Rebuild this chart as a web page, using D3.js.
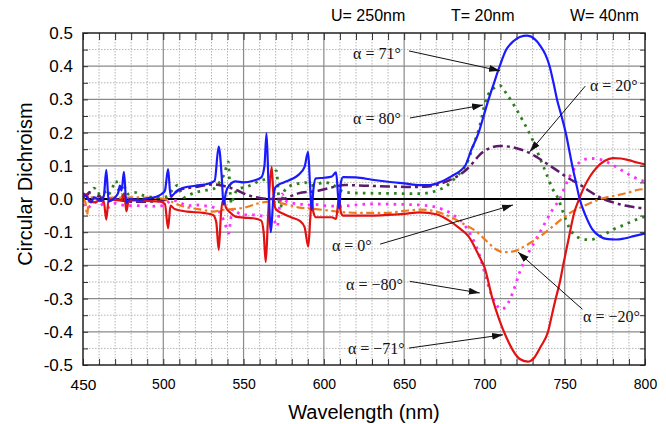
<!DOCTYPE html>
<html><head><meta charset="utf-8">
<script src="https://cdn.jsdelivr.net/npm/d3@7"></script>
<style>body{margin:0;background:#fff;}svg{display:block;}</style>
</head><body><svg id="c" width="666" height="424"></svg>
<script>
// ---------- data ----------
const xTickValues = [450, 500, 550, 600, 650, 700, 750, 800];
const yTickValues = [-0.5, -0.4, -0.3, -0.2, -0.1, 0.0, 0.1, 0.2, 0.3, 0.4, 0.5];
const headerLabels = ["U= 250nm", "T= 20nm", "W= 40nm"];
const xTitle = "Wavelength (nm)";
const yTitle = "Circular Dichroism";

// alpha = 71 deg (blue)
const a71 = [[450,0.005],[451.5,0.012],[453,0.0],[455,-0.01],[457,0.005],[459,0.0],[461,-0.005],[463,0.01],[464.5,0.088],[466,-0.008],[468,-0.003],[470,0.005],[472,0.02],[473,0.04],[474,0.025],[475.5,0.082],[477,-0.012],[479,0.0],[482,-0.002],[486,-0.003],[490,0.002],[495,0.006],[499,0.015],[501,0.025],[503,0.09],[504.5,0.01],[506,0.012],[508,0.022],[512,0.033],[520,0.04],[528,0.046],[532,0.055],[534.5,0.158],[536.5,0.06],[537.5,-0.017],[539,0.02],[541.5,0.043],[545,0.053],[550,0.05],[556,0.055],[561,0.065],[563,0.1],[564.3,0.198],[565.5,0.05],[567,-0.1],[568.5,0.0],[570,0.037],[575,0.05],[580,0.06],[584,0.072],[588,0.097],[590.2,0.142],[591.3,0.05],[592.4,-0.033],[593.5,0.03],[595,0.062],[600,0.064],[605,0.068],[607.6,0.08],[609,0.0],[609.6,-0.03],[610.6,0.05],[612,0.066],[620,0.065],[630,0.058],[640,0.052],[650,0.047],[660,0.042],[666,0.042],[672,0.05],[680,0.07],[685,0.085],[688,0.1],[692,0.15],[696.4,0.2],[699.5,0.25],[702.6,0.3],[706,0.35],[709.5,0.4],[713.6,0.45],[718,0.475],[722,0.488],[726.7,0.492],[731,0.483],[735,0.46],[738,0.435],[740.6,0.4],[743,0.35],[745.2,0.3],[748,0.25],[750.6,0.2],[752.7,0.15],[754.7,0.1],[757,0.05],[759.3,0.0],[763,-0.05],[767,-0.09],[772,-0.113],[777,-0.121],[782,-0.122],[787,-0.119],[793,-0.112],[800,-0.104]];

// alpha = -71 deg (red)
const aM71 = [[450,0.0],[452,0.015],[454,-0.005],[457,-0.01],[460,-0.005],[463,-0.01],[464.5,-0.062],[466,0.0],[470,-0.003],[474,-0.005],[475.7,0.017],[477,-0.037],[478.5,-0.005],[482,-0.004],[490,-0.006],[498,-0.008],[501,-0.015],[503,-0.088],[504.5,-0.02],[507,-0.03],[515,-0.038],[525,-0.042],[531,-0.048],[533,-0.07],[534.5,-0.153],[536,-0.04],[537.5,0.0],[539,-0.025],[541.5,-0.04],[545,-0.053],[550,-0.056],[556,-0.058],[561,-0.065],[562.5,-0.1],[563.8,-0.19],[565,-0.08],[566,0.02],[567.5,0.097],[568.5,0.02],[570,-0.03],[575,-0.045],[580,-0.056],[585,-0.066],[588,-0.085],[590.3,-0.143],[591.5,-0.06],[592.4,0.0],[593.5,-0.04],[595,-0.055],[600,-0.055],[605,-0.055],[607.6,-0.06],[609,-0.01],[609.6,0.0],[610.6,-0.04],[612,-0.05],[620,-0.05],[630,-0.05],[640,-0.048],[650,-0.045],[660,-0.04],[670,-0.046],[678,-0.065],[685,-0.09],[690,-0.112],[694,-0.145],[697,-0.175],[700,-0.205],[705,-0.3],[709,-0.36],[713.5,-0.415],[718,-0.458],[722,-0.482],[727,-0.49],[731,-0.478],[735,-0.445],[739.6,-0.4],[742,-0.35],[744.4,-0.3],[747,-0.25],[749,-0.2],[752,-0.13],[756,-0.04],[759,0.0],[762,0.035],[766,0.07],[770,0.095],[775,0.115],[780,0.123],[785,0.122],[790,0.117],[795,0.11],[800,0.104]];

// alpha = 80 deg (green dotted)
const a80 = [[450,0.0],[452,0.015],[455,0.02],[457,0.033],[459,0.015],[461,0.02],[463,0.025],[465,0.01],[468,0.03],[470.5,0.055],[472,0.03],[474,0.01],[476,0.035],[478,0.015],[482,0.02],[488,0.01],[495,0.005],[500,0.005],[503,0.01],[506,0.03],[509,0.042],[511,0.02],[513,0.005],[516,0.012],[520,0.02],[525,0.025],[531,0.03],[535,0.05],[538,0.075],[540.5,0.112],[541.5,0.03],[542.5,-0.015],[544,0.01],[547,0.03],[552,0.037],[556,0.045],[560,0.055],[564,0.06],[567,0.068],[570.5,0.085],[572,0.0],[573,-0.025],[575,0.02],[578,0.037],[583,0.045],[588,0.05],[592,0.04],[596,0.045],[600,0.05],[605,0.045],[608,0.035],[612,0.022],[620,0.018],[640,0.017],[660,0.016],[670,0.025],[676,0.038],[680,0.055],[685,0.08],[689,0.107],[693,0.16],[697,0.218],[701,0.3],[705,0.33],[709.5,0.342],[714,0.315],[719,0.278],[724,0.235],[730,0.178],[734,0.13],[738.5,0.077],[742,0.035],[746,0.0],[749,-0.04],[753,-0.088],[759.6,-0.118],[766,-0.123],[771,-0.115],[776,-0.103],[781,-0.09],[787,-0.078],[793,-0.065],[800,-0.053]];

// alpha = -80 deg (magenta dotted)
const aM80 = [[450,-0.015],[452,-0.028],[455,-0.02],[458,-0.01],[460,-0.02],[463,-0.015],[466,-0.025],[470,-0.013],[474,-0.018],[478,-0.02],[485,-0.02],[492,-0.022],[500,-0.02],[503,-0.01],[506,-0.003],[510,-0.01],[515,-0.02],[520,-0.018],[525,-0.02],[531,-0.025],[535,-0.04],[538,-0.068],[540.8,-0.103],[542,-0.06],[543.5,-0.03],[546,-0.04],[550,-0.048],[556,-0.048],[560,-0.05],[565,-0.055],[569,-0.065],[571,-0.083],[572.5,-0.02],[574,0.015],[576,-0.005],[580,-0.012],[585,-0.015],[590,-0.018],[596,-0.017],[600,-0.02],[610,-0.022],[620,-0.018],[630,-0.015],[645,-0.016],[660,-0.018],[670,-0.025],[680.6,-0.048],[687,-0.075],[692,-0.113],[697,-0.17],[700,-0.22],[703,-0.27],[707.4,-0.318],[711,-0.332],[714.5,-0.315],[717.8,-0.28],[722,-0.22],[726,-0.175],[730,-0.14],[734,-0.105],[738,-0.07],[742,-0.035],[747,0.002],[750,0.035],[753,0.067],[756.5,0.095],[759.6,0.112],[766,0.122],[773,0.118],[780,0.102],[786,0.085],[792.5,0.067],[800,0.052]];

// alpha = 20 deg (purple dash-dot)
const a20 = [[450,0.018],[452,0.01],[454,0.02],[456,0.005],[458,0.0],[460,0.01],[463,-0.005],[466,-0.005],[470,0.0],[475,-0.005],[480,-0.008],[490,-0.008],[498,-0.005],[503,0.0],[506,0.012],[510,0.028],[520,0.036],[531,0.044],[537,0.04],[545,0.028],[552,0.013],[560,0.003],[566,0.0],[573.7,0.0],[584,0.017],[596.5,0.025],[605,0.035],[613,0.042],[625,0.04],[640,0.038],[655,0.036],[665,0.038],[672,0.045],[680.6,0.062],[688,0.085],[693,0.11],[697,0.133],[702,0.15],[709.5,0.16],[716,0.157],[722,0.15],[728.4,0.138],[733,0.125],[738.7,0.107],[744,0.09],[749,0.073],[754,0.058],[759.6,0.043],[765,0.025],[770,0.01],[774,0.0],[780,-0.01],[785,-0.017],[790,-0.022],[795,-0.026],[800,-0.028]];

// alpha = -20 deg (orange dash-dot)
const aM20 = [[450,0.0],[451.5,-0.01],[452.5,-0.048],[453.5,-0.01],[455,0.005],[458,0.0],[462,0.005],[466,0.003],[470,0.005],[475,0.003],[480,0.005],[490,0.004],[498,0.002],[503,-0.003],[508,-0.015],[515,-0.025],[525,-0.033],[531,-0.038],[537,-0.033],[545,-0.03],[552,-0.024],[560,-0.012],[566,-0.008],[573.7,-0.013],[584,-0.025],[596.5,-0.031],[605,-0.036],[613,-0.04],[625,-0.042],[639,-0.042],[650,-0.036],[660,-0.032],[670,-0.038],[680.6,-0.058],[688,-0.078],[695,-0.098],[701,-0.125],[707.6,-0.153],[712,-0.16],[718,-0.158],[724,-0.145],[730,-0.128],[734.6,-0.113],[742,-0.085],[749,-0.057],[754,-0.04],[759.6,-0.026],[766,-0.012],[772,0.0],[778,0.007],[784.5,0.013],[790,0.02],[795,0.027],[800,0.03]];

// annotations: label, label anchor (wavelength, CD), arrow start, arrow end (data units)
const annLabels = ["α = 71°", "α = 80°", "α = 20°", "α = 0°", "α = −80°", "α = −71°", "α = −20°"];
const annText   = [[618.2,0.44],[618.2,0.244],[765.7,0.343],[605,-0.139],[613.8,-0.258],[615,-0.451],[761.4,-0.355]];
const annFrom   = [[653,0.446],[653.6,0.244],[762.8,0.34],[635,-0.136],[653.5,-0.248],[653,-0.449],[761,-0.332]];
const annTo     = [[709.7,0.386],[699.1,0.283],[728.2,0.142],[717.8,-0.018],[697.1,-0.283],[711.6,-0.409],[720.9,-0.16]];

// ---------- layout ----------
const svg = d3.select("#c");
const L = 83, R = 645, T = 33, B = 365;
const x = d3.scaleLinear().domain([450, 800]).range([L, R]);
const y = d3.scaleLinear().domain([-0.5, 0.5]).range([B, T]);
const sans = "'Liberation Sans', Arial, sans-serif";
const serif = "'Liberation Serif', 'Times New Roman', serif";

const defs = svg.append("defs");
defs.append("clipPath").attr("id","clip").append("rect")
  .attr("x", L).attr("y", T).attr("width", R-L).attr("height", B-T);
defs.append("marker").attr("id","arr").attr("markerUnits","userSpaceOnUse")
  .attr("markerWidth",11).attr("markerHeight",8).attr("refX",11).attr("refY",4)
  .attr("orient","auto")
  .append("path").attr("d","M0,0.5 L11,4 L0,7.5 Z").attr("fill","#111");

// grid
const minorX = d3.range(460, 800, 10).filter(v => v % 50 !== 0);
const majorX = d3.range(500, 800, 50);
const minorY = d3.range(-0.45, 0.46, 0.1);
const majorY = d3.range(-0.4, 0.41, 0.1).filter(v => Math.abs(v) > 1e-6);
const g = svg.append("g");
g.selectAll(".mx").data(minorX).join("line")
  .attr("x1", d=>x(d)).attr("x2", d=>x(d)).attr("y1", T).attr("y2", B)
  .attr("stroke","#b4b4b4").attr("stroke-width",1).attr("stroke-dasharray","1.5,1.5");
g.selectAll(".my").data(minorY).join("line")
  .attr("y1", d=>y(d)).attr("y2", d=>y(d)).attr("x1", L).attr("x2", R)
  .attr("stroke","#b4b4b4").attr("stroke-width",1).attr("stroke-dasharray","1.5,1.5");
g.selectAll(".Mx").data(majorX).join("line")
  .attr("x1", d=>x(d)).attr("x2", d=>x(d)).attr("y1", T).attr("y2", B)
  .attr("stroke","#8a8a8a").attr("stroke-width",1.2);
g.selectAll(".My").data(majorY).join("line")
  .attr("y1", d=>y(d)).attr("y2", d=>y(d)).attr("x1", L).attr("x2", R)
  .attr("stroke","#8a8a8a").attr("stroke-width",1.2);

// axes with inward ticks
const allX = d3.range(450, 801, 10);
const allY = d3.range(-0.5, 0.501, 0.05);
const isMajX = v => Math.abs(v % 50) < 1e-6;
const isMajY = v => Math.abs(Math.round(v*10) - v*10) < 1e-6;
const fmtY = v => isMajY(v) ? (Math.round(v*10)/10).toFixed(1).replace("-0.0","0.0") : "";

const xb = svg.append("g").attr("transform",`translate(0,${B})`)
  .call(d3.axisBottom(x).tickValues(allX).tickSize(-6).tickPadding(14)
    .tickFormat(v => isMajX(v) ? String(v) : ""));
const xt = svg.append("g").attr("transform",`translate(0,${T})`)
  .call(d3.axisTop(x).tickValues(allX).tickSize(-7).tickFormat(""));
const yl = svg.append("g").attr("transform",`translate(${L},0)`)
  .call(d3.axisLeft(y).tickValues(allY).tickSize(-5).tickPadding(10).tickFormat(fmtY));
const yr = svg.append("g").attr("transform",`translate(${R},0)`)
  .call(d3.axisRight(y).tickValues(allY).tickSize(-5).tickFormat(""));
[xb,xt,yl,yr].forEach(a => {
  a.select(".domain").remove();
  a.selectAll(".tick line").attr("stroke","#333").attr("stroke-width",1);
  a.selectAll("text").attr("fill","#000").attr("font-family",sans);
});
xb.selectAll("text").attr("font-size",14);
xb.selectAll("text").filter(d => d === 450).attr("font-size",15.5);
yl.selectAll("text").attr("font-size",17);

// zero line
svg.append("line").attr("x1",L).attr("x2",R).attr("y1",y(0)).attr("y2",y(0))
  .attr("stroke","#000").attr("stroke-width",2);

// series
const line = d3.line().x(d=>x(d[0])).y(d=>y(d[1])).curve(d3.curveMonotoneX);
const series = [
  {d:a80,  c:"#2f7f1f", w:2.8, dash:"2.6,5.2"},
  {d:aM80, c:"#ff30ff", w:2.8, dash:"2.6,5.2"},
  {d:a20,  c:"#5c1a6b", w:2.5, dash:"10,4,3,4"},
  {d:aM20, c:"#f07a1e", w:2.2, dash:"8,3.5,2.5,3.5"},
  {d:aM71, c:"#e01212", w:2.2, dash:null},
  {d:a71,  c:"#1a1aff", w:2.2, dash:null}
];
const sg = svg.append("g").attr("clip-path","url(#clip)");
series.forEach(s => {
  sg.append("path").attr("d", line(s.d)).attr("fill","none")
    .attr("stroke", s.c).attr("stroke-width", s.w)
    .attr("stroke-dasharray", s.dash).attr("stroke-linejoin","round");
});

// frame
svg.append("rect").attr("x",L).attr("y",T).attr("width",R-L).attr("height",B-T)
  .attr("fill","none").attr("stroke","#222").attr("stroke-width",1.5);

// annotations
annLabels.forEach((t,i) => {
  svg.append("line")
    .attr("x1", x(annFrom[i][0])).attr("y1", y(annFrom[i][1]))
    .attr("x2", x(annTo[i][0])).attr("y2", y(annTo[i][1]))
    .attr("stroke","#111").attr("stroke-width",1).attr("marker-end","url(#arr)");
  svg.append("text").attr("x", x(annText[i][0])).attr("y", y(annText[i][1]))
    .attr("dy","0.35em").attr("font-family",serif).attr("font-size",16)
    .attr("fill","#111").text(t);
});

// header
const hx = [331, 451, 570];
headerLabels.forEach((t,i) => {
  svg.append("text").attr("x", hx[i]).attr("y", 21).attr("font-family",sans)
    .attr("font-size",16).attr("fill","#000").text(t);
});

// titles
svg.append("text").attr("x",(L+R)/2).attr("y",419).attr("text-anchor","middle")
  .attr("font-family",sans).attr("font-size",20).attr("fill","#000").text(xTitle);
svg.append("text").attr("transform","translate(32,184) rotate(-90)")
  .attr("text-anchor","middle").attr("font-family",sans).attr("font-size",20)
  .attr("fill","#000").text(yTitle);
</script></body></html>
